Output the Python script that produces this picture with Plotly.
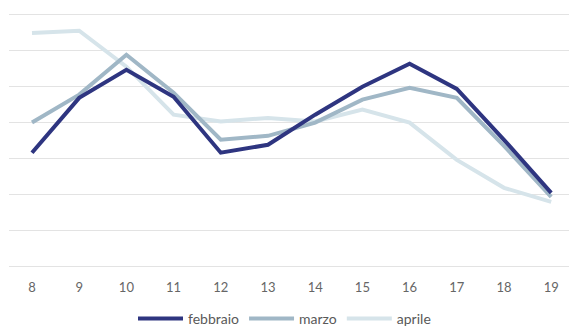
import plotly.graph_objects as go

giorni = [8, 9, 10, 11, 12, 13, 14, 15, 16, 17, 18, 19]
febbraio = [3.16, 4.69, 5.47, 4.72, 3.16, 3.38, 4.22, 5.0, 5.64, 4.94, 3.52, 2.04]
marzo = [4.0, 4.78, 5.89, 4.83, 3.52, 3.63, 4.0, 4.64, 4.97, 4.69, 3.35, 1.93]
aprile = [6.5, 6.56, 5.56, 4.22, 4.03, 4.13, 4.03, 4.36, 4.0, 2.96, 2.18, 1.79]

serie = [
    ("febbraio", febbraio, "#2e3580"),
    ("marzo", marzo, "#a0b7c6"),
    ("aprile", aprile, "#d6e4ea"),
]

fig = go.Figure()
for nome, vals, col in reversed(serie):
    fig.add_trace(go.Scatter(x=giorni, y=vals, name=nome, mode="lines",
                             line=dict(color=col, width=4)))

fig.update_layout(
    width=569, height=327,
    margin=dict(l=9, r=0, t=15, b=61, autoexpand=False),
    paper_bgcolor="white", plot_bgcolor="white",
    font=dict(family="Lato, sans-serif", color="#595959", size=12),
    showlegend=True,
    legend=dict(orientation="h", x=0.5, xanchor="center", xref="container",
                y=0.025, yanchor="middle", yref="container",
                traceorder="reversed", itemwidth=45,
                font=dict(size=14, color="#595959")),
    xaxis=dict(range=[7.513, 19.377], tickmode="array", tickvals=giorni,
               ticktext=[str(g) for g in giorni], showgrid=False, zeroline=False,
               showline=True, mirror=True, linecolor="#e3e3e3", linewidth=1,
               ticks="", ticklabelstandoff=9,
               tickfont=dict(size=13, color="#666666")),
    yaxis=dict(range=[0, 7], dtick=1, showticklabels=False, showgrid=True,
               gridcolor="#e3e3e3", gridwidth=1, zeroline=False, showline=False),
)

fig.write_html("out.html")
